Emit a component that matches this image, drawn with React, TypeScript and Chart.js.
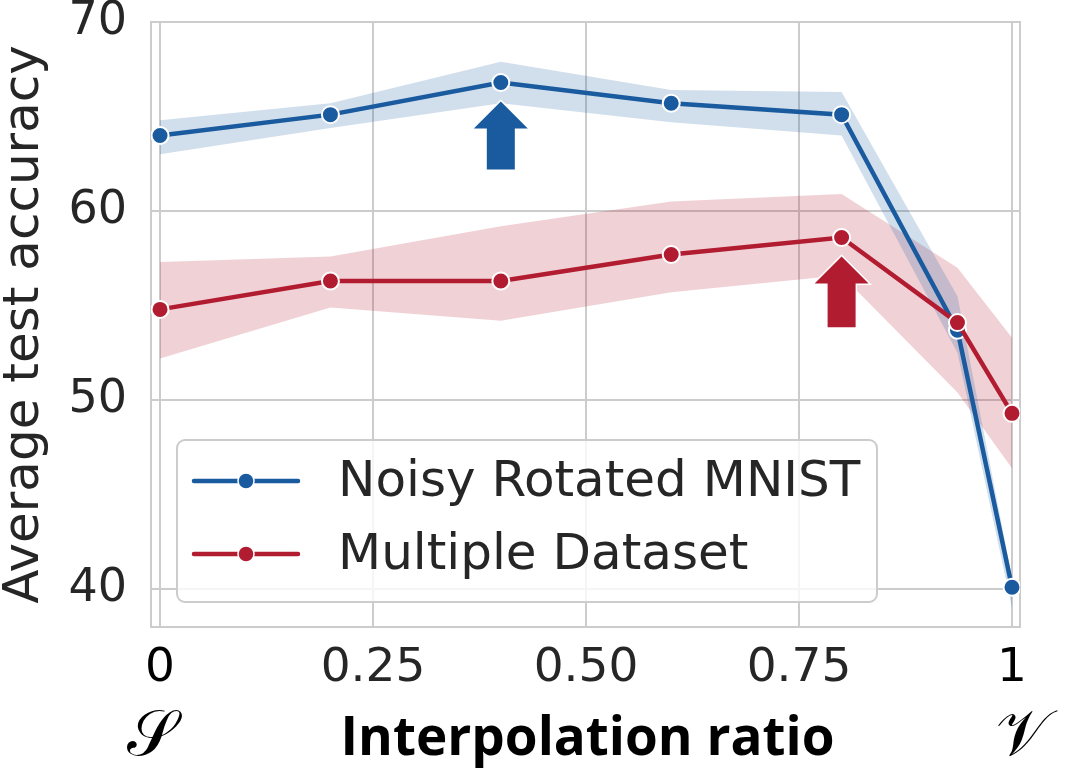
import { useEffect, useRef } from "react"
import { Chart, registerables } from "chart.js"

Chart.register(...registerables)

const ratios = [0, 0.2, 0.4, 0.6, 0.8, 0.936, 1]
const mnistMean = [64.0, 65.1, 66.8, 65.7, 65.1, 53.7, 40.1]
const mnistUpper = [64.8, 65.7, 67.9, 66.4, 66.3, 55.5, 40.6]
const mnistLower = [63.0, 64.4, 65.7, 64.7, 64.0, 52.5, 39.0]
const multiMean = [54.8, 56.3, 56.3, 57.7, 58.6, 54.1, 49.3]
const multiUpper = [57.3, 57.6, 59.2, 60.5, 60.9, 57.0, 53.3]
const multiLower = [52.2, 54.9, 54.2, 55.7, 56.6, 50.4, 46.4]

const xTickValues = [0, 0.25, 0.5, 0.75, 1]
const xTickLabels = ["0", "0.25", "0.50", "0.75", "1"]
const yTickValues = [40, 50, 60, 70]

// arrows pointing at the best ratio of each series
const arrowX = [0.4, 0.8]
const arrowTip = [65.8, 57.6]
const arrowBase = [62.2, 53.85]

const BLUE = "#1a5a9e"
const RED = "#b21c31"
const BLUE_BAND = "rgba(26, 90, 158, 0.2)"
const RED_BAND = "rgba(178, 28, 49, 0.2)"
const GRID = "#cccccc"
const TEXT = "#262626"
const FONT = "'DejaVu Sans', sans-serif"

const pts = (ys: number[]) => ratios.map((x, i) => ({ x, y: ys[i] }))

const band = (ys: number[], fill: any, color: string) => ({
  label: "",
  data: pts(ys),
  borderWidth: 0,
  borderColor: "transparent",
  backgroundColor: color,
  pointRadius: 0,
  fill,
  order: 5,
})

const series = (label: string, ys: number[], color: string, order: number) => ({
  label,
  data: pts(ys),
  borderColor: color,
  backgroundColor: color,
  borderWidth: 4.5,
  pointRadius: 8.5,
  pointBorderColor: "#ffffff",
  pointBorderWidth: 2,
  fill: false,
  order,
})

const decorations = {
  id: "decorations",
  beforeDatasetsDraw(chart: any) {
    const { ctx, chartArea: ca } = chart
    ctx.save()
    ctx.strokeStyle = GRID
    ctx.lineWidth = 2
    ctx.strokeRect(ca.left, ca.top, ca.right - ca.left, ca.bottom - ca.top)
    ctx.restore()
  },
  afterDatasetsDraw(chart: any) {
    const { ctx, chartArea: ca, scales } = chart
    const colors = [BLUE, RED]
    ctx.save()
    // arrows
    arrowX.forEach((ax, i) => {
      const cx = scales.x.getPixelForValue(ax)
      const tip = scales.y.getPixelForValue(arrowTip[i])
      const base = scales.y.getPixelForValue(arrowBase[i])
      const neck = tip + 27
      ctx.beginPath()
      ctx.moveTo(cx, tip)
      ctx.lineTo(cx + 27, neck)
      ctx.lineTo(cx + 14, neck)
      ctx.lineTo(cx + 14, base)
      ctx.lineTo(cx - 14, base)
      ctx.lineTo(cx - 14, neck)
      ctx.lineTo(cx - 27, neck)
      ctx.closePath()
      ctx.strokeStyle = "#ffffff"
      ctx.lineWidth = 3
      ctx.lineJoin = "miter"
      ctx.stroke()
      ctx.fillStyle = colors[i]
      ctx.fill()
    })

    // legend box
    const bx = ca.left + 26
    const by = ca.bottom - 25 - 162
    ctx.beginPath()
    ctx.roundRect(bx, by, 700, 162, 8)
    ctx.fillStyle = "rgba(255, 255, 255, 0.8)"
    ctx.fill()
    ctx.strokeStyle = GRID
    ctx.lineWidth = 2
    ctx.stroke()

    const labels = [chart.data.datasets[4].label, chart.data.datasets[5].label]
    labels.forEach((lab: string, i: number) => {
      const ry = by + 41 + i * 73
      ctx.strokeStyle = colors[i]
      ctx.lineWidth = 4.5
      ctx.lineCap = "round"
      ctx.beginPath()
      ctx.moveTo(bx + 17, ry)
      ctx.lineTo(bx + 121, ry)
      ctx.stroke()
      ctx.beginPath()
      ctx.arc(bx + 69, ry, 8, 0, Math.PI * 2)
      ctx.fillStyle = colors[i]
      ctx.fill()
      ctx.strokeStyle = "#ffffff"
      ctx.lineWidth = 1.5
      ctx.stroke()
      ctx.fillStyle = TEXT
      ctx.font = `50px ${FONT}`
      ctx.textAlign = "left"
      ctx.textBaseline = "middle"
      ctx.fillText(lab, bx + 161, ry + 2)
    })
    ctx.restore()
  },
  afterDraw(chart: any) {
    const { ctx, chartArea: ca } = chart
    ctx.save()
    ctx.fillStyle = "#000000"
    ctx.textBaseline = "alphabetic"
    ctx.textAlign = "center"
    ctx.font = "bold 53px 'Open Sans', sans-serif"
    ctx.fillText("Interpolation ratio", (ca.left + ca.right) / 2 + 2, ca.bottom + 128)
    ctx.font = "64px 'DejaVu Serif', serif"
    ctx.fillText("𝒮", ca.left + 1, ca.bottom + 128)
    ctx.fillText("𝒱", ca.right + 2, ca.bottom + 128)
    ctx.restore()
  },
}

export default function App() {
  const chartRef = useRef<HTMLCanvasElement>(null)
  const chartInstance = useRef<Chart | null>(null)

  useEffect(() => {
    if (!chartRef.current) return
    if (chartInstance.current) chartInstance.current.destroy()
    const ctx = chartRef.current.getContext("2d")
    if (!ctx) return

    chartInstance.current = new Chart(ctx, {
      type: "line",
      data: {
        datasets: [
          band(mnistLower, false, BLUE_BAND),
          band(mnistUpper, "-1", BLUE_BAND),
          band(multiLower, false, RED_BAND),
          band(multiUpper, "-1", RED_BAND),
          series("Noisy Rotated MNIST", mnistMean, BLUE, 1),
          series("Multiple Dataset", multiMean, RED, 0),
        ] as any,
      },
      options: {
        animation: false,
        responsive: true,
        maintainAspectRatio: false,
        layout: { padding: { top: 22, right: 56, left: 0, bottom: 0 } },
        scales: {
          x: {
            type: "linear",
            min: -0.0106,
            max: 1.0094,
            afterBuildTicks: (scale: any) => {
              scale.ticks = xTickValues.map((value) => ({ value }))
            },
            afterFit: (scale: any) => {
              scale.height = 145
              scale.paddingLeft = 0
              scale.paddingRight = 0
            },
            ticks: {
              padding: 14,
              maxRotation: 0,
              autoSkip: false,
              font: { family: FONT, size: 47 },
              color: (c: any) => (c.index === 0 || c.index === 4 ? "#000000" : TEXT),
              callback: (_v: any, i: number) => xTickLabels[i],
            },
            grid: { color: GRID, lineWidth: 2, drawTicks: false },
            border: { display: false },
          },
          y: {
            min: 38,
            max: 70,
            afterBuildTicks: (scale: any) => {
              scale.ticks = yTickValues.map((value) => ({ value }))
            },
            afterFit: (scale: any) => {
              scale.width = 151
              scale.paddingTop = 0
              scale.paddingBottom = 0
            },
            ticks: {
              padding: 24,
              font: { family: FONT, size: 46 },
              color: TEXT,
              callback: (v: any) => String(v),
            },
            grid: { color: GRID, lineWidth: 2, drawTicks: false },
            border: { display: false },
            title: {
              display: true,
              text: "Average test accuracy",
              color: TEXT,
              font: { family: FONT, size: 50, lineHeight: 1 },
              padding: 0,
            },
          },
        },
        plugins: {
          legend: { display: false },
          tooltip: { enabled: false },
          filler: { drawTime: "beforeDatasetsDraw" },
        },
      },
      plugins: [decorations],
    })

    return () => {
      if (chartInstance.current) {
        chartInstance.current.destroy()
        chartInstance.current = null
      }
    }
  }, [])

  return (
    <div style={{ position: "fixed", left: 0, top: 0, width: 1076, height: 772, background: "#fff" }}>
      <canvas ref={chartRef}></canvas>
    </div>
  )
}
